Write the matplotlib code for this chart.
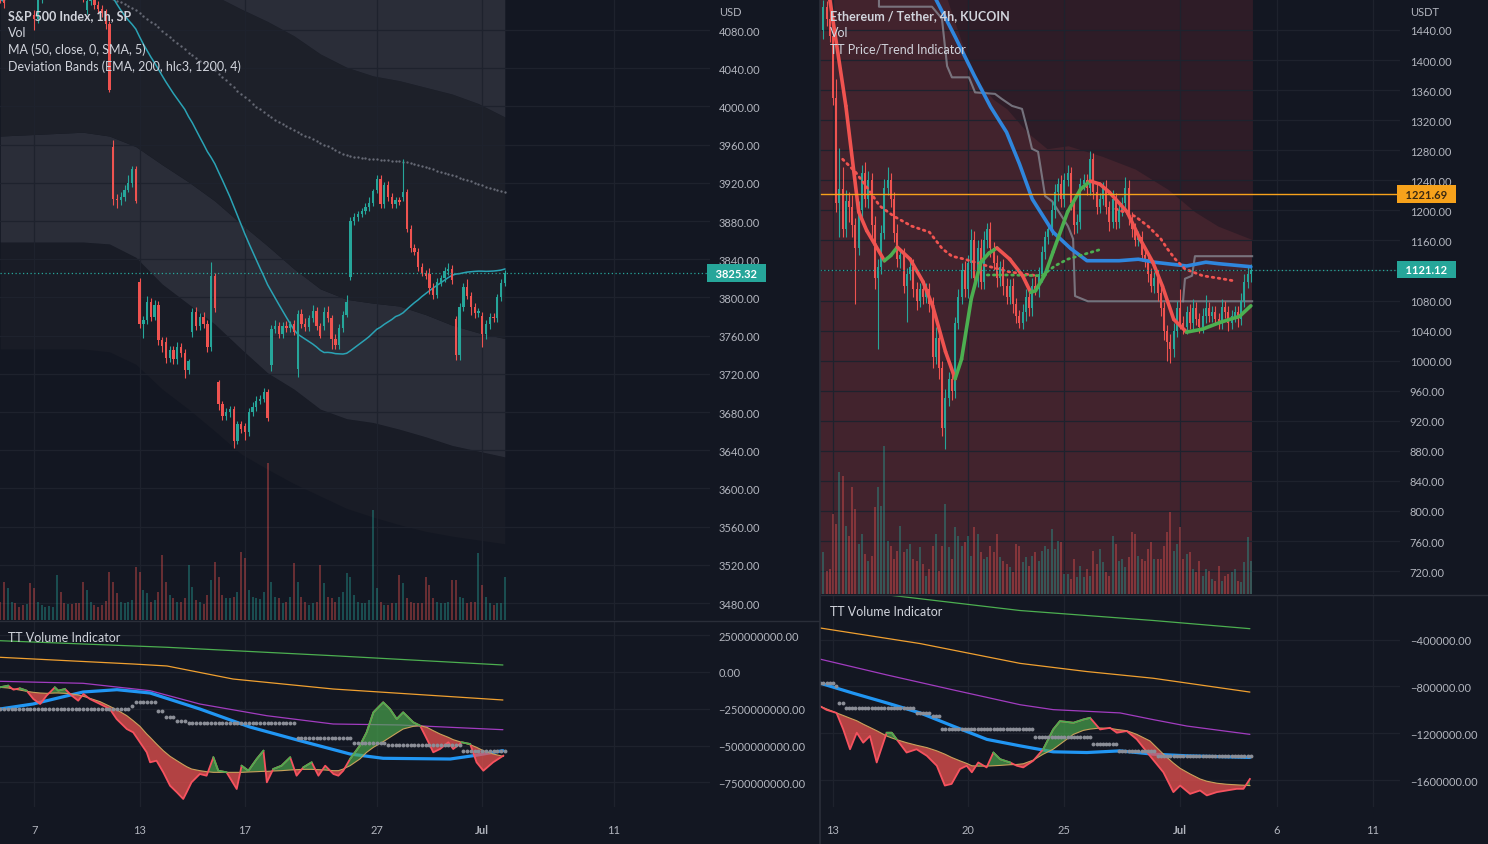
import numpy as np
import pandas as pd
import matplotlib
matplotlib.use("Agg")
import matplotlib.pyplot as plt
from matplotlib import transforms
from matplotlib.collections import LineCollection
from matplotlib.lines import Line2D

plt.rcParams['font.family'] = ['Lato', 'DejaVu Sans']

W, H = 1488, 845
BG = '#131722'
GRID = '#1e222d'
TXT = '#b2b5be'
TITLE = '#d1d4dc'
UP = '#26a69a'
DN = '#ef5350'

# ---------------- S&P 500, 1h (bar 0 = first bar of Jun 6) ----------------
spx_day_open = [4115, 4134, 4096, 4147, 4101, 3957, 3816, 3753, 3764, 3711,
                3665, 3729, 3725, 3770, 3821, 3913, 3905, 3825, 3777, 3781]
spx_close = [
    [4112, 4108],
    [4150, 4158, 4140, 4132, 4126, 4130, 4121],
    [4092, 4112, 4128, 4138, 4145, 4152, 4161],
    [4140, 4128, 4134, 4126, 4120, 4118, 4115],
    [4110, 4114, 4106, 4102, 4098, 4086, 4017],
    [3903, 3902, 3905, 3913, 3920, 3935, 3901],
    [3772, 3776, 3795, 3780, 3792, 3755, 3749],
    [3737, 3745, 3735, 3748, 3742, 3724, 3733],
    [3785, 3770, 3780, 3772, 3748, 3822, 3789],
    [3688, 3676, 3680, 3683, 3650, 3667, 3662],
    [3659, 3680, 3685, 3692, 3694, 3701, 3674],
    [3767, 3770, 3762, 3770, 3768, 3772, 3764],
    [3783, 3772, 3769, 3778, 3786, 3770, 3760],
    [3785, 3778, 3756, 3750, 3768, 3782, 3795],
    [3880, 3884, 3887, 3890, 3895, 3899, 3911],
    [3924, 3898, 3918, 3905, 3898, 3902, 3900],
    [3910, 3872, 3852, 3848, 3832, 3826, 3822],
    [3810, 3803, 3816, 3820, 3828, 3830, 3818],
    [3740, 3790, 3811, 3802, 3790, 3784, 3786],
    [3762, 3772, 3780, 3778, 3800, 3815, 3825.32],
]
spx_hi = [
    [4, 3], [15, 10, 6, 5, 5, 4, 4], [5, 6, 5, 4, 4, 4, 3], [6, 5, 4, 4, 4, 3, 3],
    [9, 5, 4, 4, 4, 4, 3], [8, 5, 5, 5, 8, 3, 3], [4, 5, 6, 4, 5, 4, 4],
    [6, 4, 4, 5, 4, 4, 3], [4, 5, 4, 5, 4, 15, 4], [3, 4, 4, 3, 3, 4, 4],
    [4, 4, 5, 5, 4, 4, 3], [4, 6, 4, 4, 5, 3, 4], [4, 5, 6, 4, 6, 4, 3],
    [5, 6, 4, 6, 4, 4, 8], [4, 4, 4, 4, 4, 6, 3], [4, 4, 3, 4, 4, 3, 3],
    [35, 4, 4, 4, 4, 4, 3], [6, 5, 4, 4, 4, 6, 4], [4, 4, 4, 8, 4, 4, 3],
    [4, 4, 4, 4, 4, 4, 3],
]
spx_lo = [
    [4, 5], [6, 5, 5, 4, 4, 4, 6], [12, 5, 4, 4, 3, 4, 3], [5, 5, 4, 4, 4, 5, 6],
    [4, 4, 4, 4, 4, 5, 2], [6, 8, 5, 4, 3, 4, 2], [4, 14, 4, 5, 4, 5, 6],
    [6, 5, 5, 5, 4, 8, 4], [5, 4, 4, 4, 5, 4, 4], [6, 4, 4, 5, 8, 4, 4],
    [8, 4, 4, 4, 4, 4, 3], [6, 4, 4, 4, 4, 4, 3], [8, 4, 4, 4, 4, 4, 3],
    [4, 4, 10, 4, 4, 4, 3], [3, 4, 4, 3, 3, 4, 3], [4, 4, 4, 4, 4, 4, 3],
    [4, 4, 4, 4, 4, 4, 3], [6, 5, 4, 4, 4, 4, 4], [6, 6, 4, 4, 8, 6, 4],
    [14, 6, 5, 4, 4, 4, 3],
]
spx_vol = [
    [18, 38], [32, 18, 17, 13, 15, 16, 37], [32, 18, 15, 13, 14, 13, 45],
    [28, 17, 16, 16, 17, 17, 38], [30, 18, 15, 13, 15, 19, 48],
    [38, 27, 18, 17, 18, 20, 53], [48, 30, 27, 18, 20, 28, 65],
    [38, 25, 22, 18, 18, 22, 55], [33, 20, 18, 16, 25, 40, 58],
    [43, 25, 22, 22, 23, 28, 68], [62, 30, 23, 22, 21, 28, 157],
    [38, 23, 22, 17, 18, 23, 57], [38, 23, 18, 15, 17, 18, 55],
    [37, 23, 22, 18, 23, 28, 47], [43, 25, 18, 17, 17, 20, 110],
    [32, 18, 15, 15, 17, 17, 45], [37, 22, 18, 17, 17, 17, 43],
    [35, 22, 18, 17, 17, 18, 40], [40, 23, 22, 17, 18, 18, 67],
    [35, 23, 17, 15, 17, 17, 43],
]
spx_tick_pos = [7, 35, 63, 98, 126, 161]
spx_tick_lab = ['7', '13', '17', '27', 'Jul', '11']

# deviation band edges read at sample bars
band_x = [-2, 20, 27, 34, 41, 48, 55, 62, 69, 76, 83, 90, 97, 104, 111, 118, 125, 132]
band_up1 = [4175, 4154, 4144, 4136, 4128, 4123, 4116, 4102, 4089, 4074, 4055, 4041,
            4032, 4027, 4020, 4013, 4003, 3989]
band_dn1 = [3969, 3973, 3969, 3958, 3939, 3921, 3901, 3877, 3854, 3830, 3809, 3798,
            3794, 3791, 3782, 3771, 3763, 3757]
band_dn2 = [3858, 3858, 3856, 3842, 3814, 3793, 3772, 3746, 3721, 3704, 3683, 3673,
            3669, 3662, 3654, 3645, 3639, 3633]
band_dn3 = [3746, 3746, 3743, 3730, 3704, 3683, 3660, 3636, 3620, 3605, 3592, 3579,
            3570, 3562, 3555, 3550, 3546, 3542]

# TT Volume Indicator (S&P), values in billions
sv_x = [-2.1, 0.1, 1.5, 3.2, 5.0, 6.8, 8.6, 10.3, 12.5, 13.4, 15.2, 17.0, 18.7, 20.1,
        21.8, 24.5, 27.1, 28.9, 31.6, 33.3, 35.1, 36.9, 37.8, 39.5, 41.3, 43.1, 44.9,
        46.6, 47.5, 48.8, 51.0, 52.8, 54.6, 55.9, 58.1, 60.8, 62.1, 63.9, 66.1, 67.9,
        68.8, 70.5, 72.7, 75.0, 76.7, 78.5, 80.7, 82.5, 84.3, 86.5, 87.8, 89.1, 90.9,
        93.5, 95.3, 97.1, 99.7, 101.5, 103.3, 105.0, 107.7, 109.5, 111.3, 113.0, 114.8,
        117.0, 118.3, 120.6, 122.8, 124.5, 126.3, 128.9, 131.6]
sv_fast = [-1.041, -0.928, -1.200, -1.109, -1.268, -1.834, -2.174, -1.608, -1.041,
           -1.268, -1.155, -1.608, -1.948, -1.494, -1.834, -2.174, -2.513, -3.193,
           -3.872, -4.098, -4.776, -5.455, -6.134, -6.025, -6.813, -7.724, -8.171,
           -8.625, -8.171, -7.493, -6.929, -7.044, -5.794, -6.705, -6.813, -7.948,
           -6.365, -6.705, -5.910, -5.346, -7.493, -6.589, -6.365, -5.794, -7.044,
           -6.474, -6.134, -7.044, -6.365, -6.929, -7.044, -6.705, -5.910, -5.006,
           -4.098, -2.738, -2.058, -2.513, -3.193, -2.738, -3.417, -3.646, -4.551,
           -5.455, -5.231, -4.776, -5.231, -4.776, -4.891, -6.134, -6.705, -6.134,
           -5.686]
sv_slow = [-1.041, -1.086, -1.155, -1.223, -1.313, -1.381, -1.427, -1.449, -1.427,
           -1.427, -1.449, -1.494, -1.562, -1.653, -1.789, -2.015, -2.332, -2.559,
           -2.966, -3.306, -3.691, -4.212, -4.438, -4.891, -5.344, -5.729, -6.023,
           -6.295, -6.431, -6.589, -6.702, -6.770, -6.816, -6.816, -6.816, -6.816,
           -6.816, -6.793, -6.770, -6.748, -6.748, -6.725, -6.702, -6.657, -6.634,
           -6.612, -6.612, -6.634, -6.657, -6.702, -6.702, -6.589, -6.363, -5.910,
           -5.457, -5.117, -4.732, -4.438, -4.144, -3.872, -3.691, -3.646, -3.759,
           -3.985, -4.212, -4.438, -4.597, -4.778, -4.936, -5.117, -5.344, -5.570,
           -5.729]
sv_green_x = [-2.1, 42.3, 86.4, 131.5]
sv_green = [2.126, 1.678, 1.107, 0.476]
sv_orange_x = [-2.1, 33.3, 42.3, 59.8, 86.4, 131.5]
sv_orange = [0.999, 0.543, 0.408, -0.476, -1.155, -1.902]
sv_purple_x = [-2.1, 20, 37.8, 51, 68.8, 86.4, 104.2, 131.5]
sv_purple = [-0.632, -0.768, -1.270, -2.174, -2.969, -3.532, -3.600, -3.920]
sv_blue_x = [-2.1, 6.7, 20, 29, 37.8, 51, 64.3, 77.6, 90.9, 99.7, 117.5, 123.6, 131.5]
sv_blue = [-2.513, -2.174, -1.359, -1.202, -1.427, -2.513, -3.736, -4.667, -5.570,
           -5.862, -5.910, -5.686, -5.346]
sv_gray_start = [-2, 33, 34, 40, 42, 45, 48, 77, 92, 101, 121]
sv_gray_end = [32, 33, 39, 41, 44, 47, 76, 91, 100, 120, 132]
sv_gray_val = [-2.513, -2.30, -2.05, -2.65, -3.06, -3.33, -3.46, -4.45, -4.82, -4.99, -5.37]

# ---------------- ETH / USDT, 4h (bar 0 = Jun 13 00:00) ----------------
eth_day_open = [1440] + [None] * 22
eth_close = [
    [1470, 1455, 1432],
    [1350, 1210, 1228, 1175, 1212, 1205],
    [1180, 1150, 1200, 1250, 1215, 1240],
    [1180, 1110, 1125, 1170, 1230, 1240],
    [1215, 1170, 1135, 1140, 1100, 1115],
    [1125, 1095, 1080, 1095, 1085, 1095],
    [1075, 1005, 1030, 990, 910, 950],
    [975, 960, 1050, 1085, 1120, 1095],
    [1130, 1160, 1110, 1150, 1105, 1160],
    [1175, 1150, 1130, 1110, 1125, 1100],
    [1085, 1100, 1075, 1060, 1050, 1065],
    [1085, 1070, 1100, 1095, 1115, 1145],
    [1165, 1175, 1200, 1225, 1235, 1215],
    [1240, 1250, 1210, 1180, 1185, 1235],
    [1240, 1230, 1268, 1225, 1205, 1215],
    [1230, 1205, 1185, 1215, 1185, 1200],
    [1210, 1230, 1190, 1175, 1160, 1165],
    [1140, 1135, 1115, 1100, 1110, 1090],
    [1070, 1040, 1025, 1015, 1040, 1070],
    [1050, 1045, 1065, 1050, 1070, 1055],
    [1045, 1060, 1070, 1060, 1065, 1055],
    [1050, 1072, 1065, 1050, 1060, 1065],
    [1055, 1080, 1105, 1115, 1121.12],
]
eth_hi = [
    [10, 8, 10], [12, 25, 55, 30, 15, 12], [15, 10, 12, 10, 15, 12],
    [10, 12, 10, 10, 12, 18], [10, 10, 12, 10, 10, 8], [8, 10, 10, 8, 8, 8],
    [8, 10, 15, 12, 10, 12], [10, 12, 8, 10, 10, 12], [10, 15, 12, 10, 12, 12],
    [8, 10, 8, 10, 8, 10], [10, 8, 10, 8, 8, 10], [10, 12, 10, 12, 10, 8],
    [8, 10, 12, 10, 8, 12], [10, 10, 8, 8, 10, 8], [8, 8, 11, 8, 10, 8],
    [8, 10, 8, 12, 8, 8], [8, 15, 10, 8, 8, 8], [8, 8, 10, 8, 8, 10],
    [10, 8, 8, 10, 10, 10], [25, 10, 8, 10, 12, 8], [8, 10, 18, 8, 8, 8],
    [8, 10, 8, 8, 8, 8], [8, 10, 10, 12, 8],
]
eth_lo = [
    [12, 10, 8], [10, 12, 45, 10, 10, 20], [15, 75, 10, 12, 10, 12],
    [20, 15, 94, 10, 8, 10], [10, 12, 10, 12, 10, 49], [8, 10, 12, 8, 10, 8],
    [10, 15, 10, 15, 10, 28], [10, 12, 10, 8, 10, 10], [12, 20, 10, 12, 10, 10],
    [10, 12, 10, 12, 10, 12], [10, 10, 12, 10, 6, 8], [12, 10, 10, 8, 10, 10],
    [10, 10, 8, 10, 12, 10], [10, 8, 10, 12, 10, 10], [8, 10, 10, 10, 10, 8],
    [8, 10, 12, 8, 10, 8], [8, 8, 10, 10, 8, 8], [8, 10, 10, 8, 10, 10],
    [10, 12, 25, 18, 10, 8], [8, 10, 10, 8, 10, 8], [8, 8, 10, 8, 8, 8],
    [8, 8, 8, 10, 8, 8], [10, 8, 8, 8, 10],
]
eth_vol = [
    [42, 23, 25], [80, 70, 122, 118, 68, 58], [107, 85, 50, 60, 40, 33],
    [38, 87, 107, 88, 148, 53], [48, 35, 43, 68, 42, 45], [50, 35, 33, 47, 30, 18],
    [25, 48, 60, 23, 48, 90], [47, 35, 67, 58, 48, 52], [58, 38, 67, 60, 42, 35],
    [37, 48, 42, 60, 37, 33], [30, 27, 22, 50, 48, 32], [37, 28, 38, 42, 33, 43],
    [48, 45, 65, 45, 53, 52], [20, 20, 15, 35, 17, 28], [17, 25, 18, 43, 30, 45],
    [32, 22, 18, 58, 50, 33], [35, 27, 37, 62, 60, 38], [35, 33, 45, 52, 35, 35],
    [35, 48, 62, 82, 43, 50], [67, 35, 40, 42, 25, 22], [33, 18, 25, 23, 15, 13],
    [28, 13, 18, 20, 22, 25], [13, 12, 32, 57, 33],
]
eth_tick_pos = [0, 42, 72, 108, 138, 168]
eth_tick_lab = ['13', '20', '25', 'Jul', '6', '11']
eth_alert = 1221.69

# TT Price/Trend overlays
eth_blue_x = [30, 32, 38, 44, 49, 54, 58, 62, 66, 68.5, 74, 79, 89, 95, 100, 110, 116, 120, 130]
eth_blue = [1501, 1481, 1431, 1379, 1338, 1304, 1262, 1215, 1188, 1171, 1149, 1133,
            1133, 1135, 1131, 1126, 1131, 1129, 1125]
eth_trend_x = [-3, -1, 4, 8, 10.5, 13, 16, 18, 20, 24, 28, 31, 35, 38, 40, 43, 46, 48.5,
               51, 55, 59, 61.5, 63, 66, 68.5, 73, 77, 80, 83, 86, 91.5, 95.5, 99.5,
               102.5, 106, 110, 115, 120.5, 126.5, 130]
eth_trend = [1540, 1481, 1339, 1198, 1173, 1155, 1133, 1140, 1151, 1135, 1105, 1073,
             1012, 976, 1002, 1082, 1131, 1143, 1150, 1135, 1113, 1091, 1093, 1115,
             1145, 1198, 1228, 1239, 1235, 1224, 1198, 1162, 1131, 1099, 1055, 1038,
             1042, 1051, 1059, 1073]
eth_reddot1_x = [3, 7, 11, 14.5, 19, 24.5, 30, 34, 37, 41, 48, 55, 63.5]
eth_reddot1 = [1268, 1251, 1228, 1206, 1192, 1179, 1171, 1149, 1139, 1135, 1126, 1118, 1113]
eth_greendot_x = [48, 55, 65, 69, 73, 78.5, 84]
eth_greendot = [1114, 1114, 1113, 1126, 1135, 1142, 1149]
eth_reddot2_x = [88, 94, 98, 102, 104, 106.5, 109.5, 115, 121, 125]
eth_reddot2 = [1202, 1192, 1179, 1162, 1149, 1135, 1122, 1113, 1109, 1106]
eth_step_x = [14.3, 14.3, 30.8, 33.9, 35.5, 37, 42.3, 44.2, 50.4, 52.6, 55.7, 58.8, 60.7,
              61.9, 63.8, 66, 68.2, 73.1, 74.7, 75.3, 79.3, 108.9, 130.4]
eth_step = [1488, 1471, 1471, 1455, 1392, 1377, 1377, 1357, 1355, 1348, 1339, 1335, 1304,
            1282, 1278, 1219, 1212, 1179, 1162, 1086, 1079, 1079, 1079]
eth_step2_x = [108.9, 109.5, 111.7, 112.6, 130.4]
eth_step2 = [1079, 1109, 1113, 1139, 1139]
eth_cloud_x = [30, 35.5, 43.6, 49.8, 54.1, 60.4, 66.6, 73.1, 83.7, 94, 104.2, 112.6, 119.8, 130.5]
eth_cloud = [1520, 1481, 1379, 1348, 1335, 1304, 1282, 1286, 1272, 1255, 1228, 1198, 1179, 1161]

# TT Volume Indicator (ETH), values in thousands
ev_x = [-4.0, -2.0, 1.1, 3.2, 5.3, 7.4, 9.4, 11.5, 13.6, 16.7, 18.3, 19.8, 22.9, 26.0,
        29.2, 32.3, 34.8, 36.9, 39.5, 41.6, 43.2, 45.2, 47.8, 49.9, 52.0, 55.1, 57.2,
        59.2, 62.3, 65.4, 68.5, 70.6, 74.8, 77.9, 80.0, 83.1, 86.2, 88.3, 91.4, 94.5,
        98.6, 102.8, 105.9, 108.0, 111.1, 114.2, 116.3, 119.4, 122.5, 125.6, 127.7, 129.7]
ev_fast = [-969, -1000, -1026, -1167, -1336, -1195, -1280, -1223, -1449, -1195,
           -1195, -1251, -1364, -1336, -1392, -1477, -1646, -1632, -1505, -1477,
           -1533, -1449, -1491, -1364, -1421, -1449, -1477, -1491, -1434, -1336,
           -1167, -1096, -1110, -1082, -1068, -1167, -1153, -1195, -1181, -1251,
           -1392, -1533, -1702, -1646, -1717, -1688, -1730, -1702, -1688, -1674,
           -1674, -1590]
ev_slow = [-969, -992, -1026, -1048, -1071, -1093, -1122, -1150, -1178, -1223,
           -1240, -1254, -1280, -1302, -1322, -1350, -1378, -1406, -1435, -1457,
           -1477, -1480, -1480, -1477, -1474, -1468, -1466, -1460, -1429, -1378,
           -1336, -1294, -1209, -1175, -1164, -1155, -1158, -1167, -1178, -1209,
           -1265, -1378, -1454, -1499, -1547, -1590, -1609, -1626, -1635, -1640,
           -1643, -1646]
ev_green_x = [-3.4, 14.6, 58.2, 99.6, 129.7]
ev_green = [74, -11, -152, -237, -307]
ev_orange_x = [-4, 27.1, 58.2, 79, 99.6, 129.7]
ev_orange = [-301, -434, -603, -673, -730, -848]
ev_purple_x = [-4, 16.8, 37.3, 58.2, 68.5, 89.3, 99.6, 110.1, 129.7]
ev_purple = [-567, -702, -829, -956, -998, -1026, -1083, -1138, -1209]
ev_blue_x = [-4, 6.2, 16.8, 27.1, 37.3, 47.9, 58.2, 68.5, 79, 89.3, 99.6, 110.1, 129.7]
ev_blue = [-772, -857, -941, -1026, -1138, -1252, -1307, -1358, -1364, -1350, -1378,
           -1392, -1406]
ev_gray_start = [-4, 1, 2, 4, 26, 31, 34, 63, 81, 89, 101]
ev_gray_end = [0, 1, 3, 25, 30, 33, 62, 80, 88, 100, 130]
ev_gray_val = [-772, -797, -940, -985, -1026, -1054, -1167, -1230, -1294, -1350, -1395]


def ohlc(closes, hi_ext, lo_ext, day_open):
    o, h, l, c = [], [], [], []
    prev = None
    for g, day in enumerate(closes):
        if day_open[g] is not None:
            prev = day_open[g]
        for k, cl in enumerate(day):
            o.append(prev)
            c.append(cl)
            h.append(max(prev, cl) + hi_ext[g][k])
            l.append(min(prev, cl) - lo_ext[g][k])
            prev = cl
    return [np.array(a, float) for a in (o, h, l, c)]


fig = plt.figure(figsize=(W / 100, H / 100), dpi=100, facecolor=BG)


def pane(x0, y0, x1, y1, xlim, ylim):
    ax = fig.add_axes([x0 / W, 1 - y1 / H, (x1 - x0) / W, (y1 - y0) / H])
    ax.set_facecolor('none')
    for s in ax.spines.values():
        s.set_visible(False)
    ax.set_axisbelow(True)
    ax.grid(True, color=GRID, lw=0.9)
    ax.yaxis.tick_right()
    ax.tick_params(length=0, colors=TXT, labelsize=8)
    ax.set_xlim(*xlim)
    ax.set_ylim(*ylim)
    return ax


def candles(ax, x, o, h, l, c, w, min_body):
    up = c >= o
    col = np.where(up, UP, DN)
    ax.vlines(x, l, h, colors=col, lw=0.8, zorder=5)
    ax.bar(x, np.maximum(np.abs(c - o), min_body), w, bottom=np.minimum(o, c),
           color=col, lw=0, zorder=6)
    return up


def volume(ax, x, vol, up, full):
    tr = transforms.blended_transform_factory(ax.transData, ax.transAxes)
    col = np.where(up, UP, DN)
    ax.vlines(x, 0, np.asarray(vol, float) / full, colors=col, alpha=0.5, lw=1.1,
              transform=tr, zorder=3)


def tt_volume(ax, fx, fast, slow, lines, gstart, gend, gval):
    fx, fast, slow = np.asarray(fx), np.asarray(fast, float), np.asarray(slow, float)
    for xs, ys, col, lw in lines:
        ax.plot(xs, ys, color=col, lw=lw, zorder=2, solid_capstyle='round')
    ax.fill_between(fx, fast, slow, where=fast >= slow, interpolate=True,
                    color='#4caf50', alpha=0.65, lw=0, zorder=3)
    ax.fill_between(fx, fast, slow, where=fast < slow, interpolate=True,
                    color='#f05350', alpha=0.72, lw=0, zorder=3)
    ax.plot(fx, slow, color='#c9a25b', lw=0.8, zorder=4)
    ax.plot(fx, fast, color='#f7525f', lw=1.3, zorder=4)
    ax.plot(fx, np.ma.masked_where(fast < slow, fast), color='#4caf50', lw=1.3, zorder=4)
    for s, e, v in zip(gstart, gend, gval):
        xs = np.arange(s, e + 1)
        ax.plot(xs, np.full(len(xs), v), ls='none', marker='o', ms=2.8,
                color='#8b8e97', mec='none', zorder=5)


def price_tag(ax, y, text, fc, tc):
    tr = transforms.blended_transform_factory(ax.transAxes, ax.transData)
    ax.text(1.0, y, '  ' + text + '  ', transform=tr, ha='left', va='center',
            fontsize=8, color=tc, fontweight='bold', clip_on=False, zorder=20,
            bbox=dict(boxstyle='square,pad=0.3', fc=fc, ec='none'))


def fmt(v, mult):
    s = '%.2f' % (v * mult)
    return s.replace('-', '\u2212')


def price_ticks(ax, ticks, tags, min_gap):
    # like the platform, hide a scale label that a price tag covers
    ax.set_yticks(ticks)
    ax.set_yticklabels(['' if any(abs(t - g) < min_gap for g in tags) else fmt(t, 1)
                        for t in ticks])


# ====================== left chart: S&P 500 ======================
so, sh, sl, sc = ohlc(spx_close, spx_hi, spx_lo, spx_day_open)
sx = np.arange(len(sc)) - 2
svol = [v for day in spx_vol for v in day]

ax1 = pane(0, 0, 710, 621, (-2.07, 186.5), (3462.2, 4112.5))
price_ticks(ax1, np.arange(3480, 4081, 40), [sc[-1]], 8)
ax1.tick_params(axis='y', pad=6)
ax1.set_xticks(spx_tick_pos)
ax1.tick_params(axis='x', labelbottom=False)

ax1.fill_between(band_x, band_dn3, band_dn2, color='#191c26', lw=0, zorder=0.2)
ax1.fill_between(band_x, band_dn2, band_dn1, color='#2a2d38', lw=0, zorder=0.2)
ax1.fill_between(band_x, band_dn1, band_up1, color='#1d2029', lw=0, zorder=0.2)
ax1.fill_between(band_x, band_up1, 4300, color='#2a2d38', lw=0, zorder=0.2)

hlc3 = (sh + sl + sc) / 3
ema200 = pd.Series(hlc3).ewm(span=200, adjust=False).mean()
ax1.plot(sx, ema200, ls='none', marker='o', ms=1.7, mec='none', color='#666a75', zorder=4)
sma50 = pd.Series(sc).rolling(50, min_periods=1).mean()
ax1.plot(sx, sma50, color='#2aa3b5', lw=1.1, zorder=4)

sup = candles(ax1, sx, so, sh, sl, sc, 0.62, 1.1)
volume(ax1, sx, svol, sup, 621)
ax1.axhline(sc[-1], color=UP, lw=0.9, ls=(0, (1, 2)), zorder=7)
price_tag(ax1, sc[-1], '%.2f' % sc[-1], UP, 'white')

ax2 = pane(0, 622, 710, 808, (-2.07, 186.5), (-9.17, 3.464))
ax2.set_yticks([2.5, 0, -2.5, -5, -7.5])
ax2.set_yticklabels([fmt(v, 1e9) for v in [2.5, 0, -2.5, -5, -7.5]])
ax2.tick_params(axis='y', pad=6)
ax2.set_xticks(spx_tick_pos)
ax2.set_xticklabels(spx_tick_lab)
ax2.tick_params(axis='x', pad=12)
tt_volume(ax2, sv_x, sv_fast, sv_slow,
          [(sv_green_x, sv_green, '#4caf50', 0.9), (sv_orange_x, sv_orange, '#f0a030', 0.9),
           (sv_purple_x, sv_purple, '#a23cc0', 0.9), (sv_blue_x, sv_blue, '#2196f3', 2.3)],
          sv_gray_start, sv_gray_end, sv_gray_val)

# ====================== right chart: ETH/USDT ======================
eo, eh, el, ec = ohlc(eth_close, eth_hi, eth_lo, eth_day_open)
ex = np.arange(len(ec)) - 3
evol = [v for day in eth_vol for v in day]

ax3 = pane(820, 0, 1400, 595, (-4.04, 176.4), (689.5, 1481.25))
price_ticks(ax3, np.arange(720, 1441, 40), [ec[-1]], 12)
ax3.tick_params(axis='y', pad=7)
ax3.set_xticks(eth_tick_pos)
ax3.tick_params(axis='x', labelbottom=False)

ax3.axvspan(-4.5, ex[-1] + 0.5, color='#42232d', lw=0, zorder=0.1)
ax3.fill_between(eth_cloud_x, eth_cloud, 1600, color='#2e1c27', lw=0, zorder=0.2)

ax3.plot(eth_step_x, eth_step, color='#8c8f99', alpha=0.75, lw=1.5, zorder=3)
ax3.plot(eth_step2_x, eth_step2, color='#8c8f99', alpha=0.75, lw=1.5, zorder=3)
eup = candles(ax3, ex, eo, eh, el, ec, 0.62, 1.4)
volume(ax3, ex, evol, eup, 595)
ax3.plot(eth_blue_x, eth_blue, color='#2f86dd', lw=2.6, zorder=7, solid_capstyle='round')
pts = np.column_stack([eth_trend_x, eth_trend])
segs = np.stack([pts[:-1], pts[1:]], axis=1)
seg_col = ['#4caf50' if b > a else '#f05350' for a, b in zip(eth_trend[:-1], eth_trend[1:])]
ax3.add_collection(LineCollection(segs, colors=seg_col, lw=2.6, zorder=8, capstyle='round'))
ax3.plot(eth_reddot1_x, eth_reddot1, color='#f05350', lw=2.0, ls=(0, (0.6, 1.6)),
         dash_capstyle='round', zorder=7)
ax3.plot(eth_reddot2_x, eth_reddot2, color='#f05350', lw=2.0, ls=(0, (0.6, 1.6)),
         dash_capstyle='round', zorder=7)
ax3.plot(eth_greendot_x, eth_greendot, color='#4caf50', lw=2.0, ls=(0, (0.6, 1.6)),
         dash_capstyle='round', zorder=7)

ax3.axhline(eth_alert, color='#f7a21b', lw=1, zorder=9)
ax3.axhline(ec[-1], color=UP, lw=0.9, ls=(0, (1, 2)), zorder=9)
price_tag(ax3, eth_alert, '%.2f' % eth_alert, '#f7a21b', '#3b2a12')
price_tag(ax3, ec[-1], '%.2f' % ec[-1], UP, 'white')

ax4 = pane(820, 596, 1400, 808, (-4.04, 176.4), (-1829, -19.5))
ax4.set_yticks([-400, -800, -1200, -1600])
ax4.set_yticklabels([fmt(v, 1000) for v in [-400, -800, -1200, -1600]])
ax4.tick_params(axis='y', pad=7)
ax4.set_xticks(eth_tick_pos)
ax4.set_xticklabels(eth_tick_lab)
ax4.tick_params(axis='x', pad=12)
tt_volume(ax4, ev_x, ev_fast, ev_slow,
          [(ev_green_x, ev_green, '#4caf50', 0.9), (ev_orange_x, ev_orange, '#f0a030', 0.9),
           (ev_purple_x, ev_purple, '#a23cc0', 0.9), (ev_blue_x, ev_blue, '#2196f3', 2.3)],
          ev_gray_start, ev_gray_end, ev_gray_val)

for ax in (ax2, ax4):
    for t in ax.get_xticklabels():
        if t.get_text() == 'Jul':
            t.set_fontweight('bold')

# separators
fig.add_artist(Line2D([0, 819 / W], [1 - 621.5 / H] * 2, color='#2a2e39', lw=1))
fig.add_artist(Line2D([821 / W, 1], [1 - 595.5 / H] * 2, color='#2a2e39', lw=1))
fig.add_artist(Line2D([819.5 / W] * 2, [0, 1], color='#2a2e39', lw=1.2))


# legends / titles
def label(x, y, s, bold=False, color=TITLE, size=9):
    fig.text(x / W, 1 - y / H, s, color=color, fontsize=size, va='center', ha='left',
             fontweight='bold' if bold else 'normal')


label(8, 16, 'S&P 500 Index, 1h, SP', bold=True)
label(8, 33, 'Vol')
label(8, 50, 'MA (50, close, 0, SMA, 5)')
label(8, 67, 'Deviation Bands (EMA, 200, hlc3, 1200, 4)')
label(8, 638, 'TT Volume Indicator')
label(830, 16, 'Ethereum / Tether, 4h, KUCOIN', bold=True)
label(830, 33, 'Vol')
label(830, 50, 'TT Price/Trend Indicator')
label(830, 612, 'TT Volume Indicator')
label(719, 13, 'USD', color=TXT, size=8)
label(1410, 13, 'USDT', color=TXT, size=8)

fig.savefig('out.png', dpi=100, facecolor=BG)
